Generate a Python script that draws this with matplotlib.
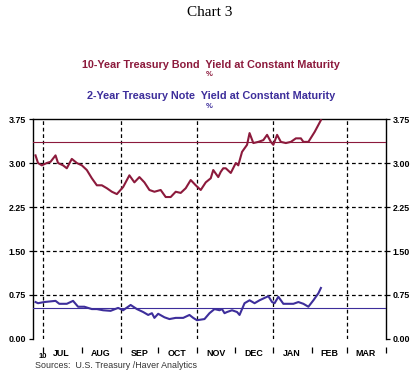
import matplotlib
matplotlib.use("Agg")
import matplotlib.pyplot as plt
import pandas as pd

# 10-year treasury bond yield, %
BOND_DATES = [
    "2010-06-25", "2010-06-27", "2010-06-30", "2010-07-04", "2010-07-07", "2010-07-11",
    "2010-07-13", "2010-07-17", "2010-07-20", "2010-07-24", "2010-07-28", "2010-08-01",
    "2010-08-05", "2010-08-09", "2010-08-13", "2010-08-17", "2010-08-21", "2010-08-25",
    "2010-08-29", "2010-09-03", "2010-09-08", "2010-09-12", "2010-09-16", "2010-09-20",
    "2010-09-24", "2010-09-28", "2010-10-03", "2010-10-07", "2010-10-11", "2010-10-15",
    "2010-10-19", "2010-10-23", "2010-10-27", "2010-10-31", "2010-11-04", "2010-11-08",
    "2010-11-12", "2010-11-14", "2010-11-18", "2010-11-20", "2010-11-22", "2010-11-24",
    "2010-11-28", "2010-12-02", "2010-12-04", "2010-12-07", "2010-12-11", "2010-12-13",
    "2010-12-16", "2010-12-20", "2010-12-24", "2010-12-27", "2010-12-30", "2011-01-01",
    "2011-01-04", "2011-01-07", "2011-01-11", "2011-01-15", "2011-01-19", "2011-01-23",
    "2011-01-25", "2011-01-29", "2011-02-03", "2011-02-08",
]
BOND_10Y = [
    3.13, 3.00, 2.96, 3.00, 3.02, 3.13,
    3.00, 2.96, 2.91, 3.07, 3.00, 2.96,
    2.88, 2.74, 2.62, 2.62, 2.57, 2.51,
    2.47, 2.59, 2.79, 2.67, 2.76, 2.67,
    2.54, 2.51, 2.54, 2.42, 2.42, 2.51,
    2.49, 2.57, 2.71, 2.62, 2.54, 2.67,
    2.74, 2.88, 2.76, 2.85, 2.91, 2.91,
    2.83, 3.00, 2.96, 3.19, 3.31, 3.51,
    3.34, 3.36, 3.39, 3.48, 3.36, 3.31,
    3.48, 3.36, 3.34, 3.36, 3.42, 3.42,
    3.36, 3.36, 3.53, 3.73,
]

# 2-year treasury note yield, %
NOTE_DATES = [
    "2010-06-25", "2010-06-27", "2010-07-02", "2010-07-11", "2010-07-14", "2010-07-20",
    "2010-07-25", "2010-07-29", "2010-08-03", "2010-08-09", "2010-08-13", "2010-08-18",
    "2010-08-24", "2010-08-30", "2010-09-03", "2010-09-09", "2010-09-14", "2010-09-19",
    "2010-09-23", "2010-09-26", "2010-09-28", "2010-10-01", "2010-10-06", "2010-10-10",
    "2010-10-15", "2010-10-21", "2010-10-26", "2010-10-29", "2010-11-01", "2010-11-07",
    "2010-11-11", "2010-11-15", "2010-11-19", "2010-11-21", "2010-11-23", "2010-11-25",
    "2010-11-29", "2010-12-03", "2010-12-05", "2010-12-09", "2010-12-13", "2010-12-17",
    "2010-12-21", "2010-12-25", "2010-12-28", "2010-12-31", "2011-01-02", "2011-01-05",
    "2011-01-09", "2011-01-13", "2011-01-17", "2011-01-21", "2011-01-25", "2011-01-29",
    "2011-02-02", "2011-02-06", "2011-02-08",
]
NOTE_2Y = [
    0.63, 0.61, 0.63, 0.65, 0.60, 0.60,
    0.65, 0.55, 0.55, 0.51, 0.51, 0.49,
    0.48, 0.53, 0.49, 0.58, 0.51, 0.46,
    0.41, 0.44, 0.36, 0.43, 0.37, 0.34,
    0.36, 0.36, 0.41, 0.36, 0.32, 0.34,
    0.44, 0.51, 0.49, 0.51, 0.44, 0.46,
    0.49, 0.46, 0.41, 0.61, 0.66, 0.61,
    0.66, 0.70, 0.73, 0.63, 0.61, 0.72,
    0.60, 0.60, 0.60, 0.63, 0.60, 0.55,
    0.66, 0.78, 0.87,
]

BOND_MEAN = 3.36
NOTE_MEAN = 0.53

Y_TICKS = [0.0, 0.75, 1.5, 2.25, 3.0, 3.75]
Y_LABELS = ["0.00", "0.75", "1.50", "2.25", "3.00", "3.75"]
MONTH_STARTS = ["2010-07-01", "2010-08-01", "2010-09-01", "2010-10-01", "2010-11-01",
                "2010-12-01", "2011-01-01", "2011-02-01", "2011-03-01", "2011-04-01"]
MONTH_MIDS = ["2010-07-16", "2010-08-16", "2010-09-16", "2010-10-16", "2010-11-16",
              "2010-12-16", "2011-01-16", "2011-02-15", "2011-03-16"]
MONTH_LABELS = ["JUL", "AUG", "SEP", "OCT", "NOV", "DEC", "JAN", "FEB", "MAR"]
GRID_DATES = ["2010-07-01", "2010-09-01", "2010-11-01", "2011-01-01", "2011-03-01"]

BOND_COLOR = "#8c1a3c"
NOTE_COLOR = "#3d2e9b"

W, H = 420, 373
fig = plt.figure(figsize=(W / 100, H / 100), dpi=100)
ax = fig.add_axes([33 / W, 1 - 339 / H, (386 - 33) / W, (339 - 119) / H])

bond_x = pd.to_datetime(BOND_DATES)
note_x = pd.to_datetime(NOTE_DATES)
ax.plot(bond_x, BOND_10Y, color=BOND_COLOR, linewidth=1.5, zorder=4)
ax.plot(note_x, NOTE_2Y, color=NOTE_COLOR, linewidth=1.5, zorder=4)
ax.axhline(BOND_MEAN, color=BOND_COLOR, linewidth=0.8, zorder=3)
ax.axhline(NOTE_MEAN, color=NOTE_COLOR, linewidth=0.8, zorder=3)

dash = (0, (3, 2.2))
for v in Y_TICKS[1:-1]:
    ax.axhline(v, color="black", linewidth=0.9, linestyle=dash, zorder=2)
for d in GRID_DATES:
    ax.axvline(pd.Timestamp(d), color="black", linewidth=0.9, linestyle=dash, zorder=2)

ax.set_xlim(pd.Timestamp("2010-06-23"), pd.Timestamp("2011-04-01"))
ax.set_ylim(0, 3.75)

tick_font = dict(family="Liberation Sans", weight="bold", size=6.4)
ax.set_yticks(Y_TICKS)
ax.set_yticklabels(Y_LABELS, fontdict=tick_font)
ax.tick_params(axis="y", which="major", direction="out", length=3, width=0.9,
               left=True, right=True, labelleft=True, labelright=True, pad=2)

ax.spines["bottom"].set_position(("outward", 6))
ax.spines["bottom"].set_visible(False)
ax.set_xticks(pd.to_datetime(MONTH_STARTS))
ax.set_xticklabels([])
ax.set_xticks(pd.to_datetime(MONTH_MIDS), minor=True)
ax.set_xticklabels(MONTH_LABELS, minor=True, fontdict=tick_font)
ax.tick_params(axis="x", which="major", direction="out", length=4, width=0.9)
ax.tick_params(axis="x", which="minor", length=0, pad=1.5)
for s in ["left", "right", "top"]:
    ax.spines[s].set_linewidth(1.0)

ax.text(pd.Timestamp("2010-07-01"), -0.064, "10", transform=ax.get_xaxis_transform(),
        ha="center", va="top", family="Liberation Sans", weight="bold", size=5.5)

fig.text(210 / W, 1 - 12 / H, "Chart 3", ha="center", va="center",
         family="Liberation Serif", size=11)
fig.text(211 / W, 1 - 65 / H, "10-Year Treasury Bond  Yield at Constant Maturity",
         ha="center", va="center", family="Liberation Sans", weight="bold", size=7.8,
         color=BOND_COLOR)
fig.text(209 / W, 1 - 75 / H, "%", ha="center", va="center", family="Liberation Sans",
         weight="bold", size=5.5, color=BOND_COLOR)
fig.text(211 / W, 1 - 96 / H, "2-Year Treasury Note  Yield at Constant Maturity",
         ha="center", va="center", family="Liberation Sans", weight="bold", size=7.8,
         color=NOTE_COLOR)
fig.text(209 / W, 1 - 106 / H, "%", ha="center", va="center", family="Liberation Sans",
         weight="bold", size=5.5, color=NOTE_COLOR)
fig.text(35 / W, 1 - 366 / H, "Sources:  U.S. Treasury /Haver Analytics", ha="left",
         va="center", family="Liberation Sans", size=6.4, color="#333333")

fig.savefig("out.png", dpi=100)
